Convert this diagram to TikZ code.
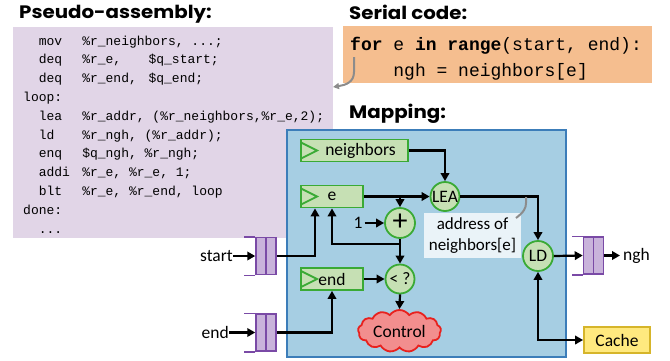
\documentclass[tikz,border=0pt]{standalone}
\usepackage{fontspec}
\usepackage{graphicx}
\setmainfont{Carlito}
\newfontfamily\headfont{Poppins}
\setmonofont{Liberation Mono}
\usetikzlibrary{arrows.meta,shapes.symbols,calc}
\definecolor{asmbg}{HTML}{E1D5E7}
\definecolor{serbg}{HTML}{F5BE8F}
\definecolor{mapbg}{HTML}{A6CEE3}
\definecolor{mapbd}{HTML}{3C7DB9}
\definecolor{regbg}{HTML}{C6E0B4}
\definecolor{regbd}{HTML}{3AAA35}
\definecolor{qbg}{HTML}{C9B3DB}
\definecolor{qbd}{HTML}{7A4AA6}
\definecolor{ctrlbg}{HTML}{F28E8E}
\definecolor{ctrlbd}{HTML}{E8211E}
\definecolor{cachebg}{HTML}{FFE97F}
\definecolor{cachebd}{HTML}{D6B52A}
\definecolor{notebg}{HTML}{EAF3F8}
\definecolor{pointer}{HTML}{8C8C8C}
\tikzset{
  heading/.style={anchor=base west, inner sep=0pt, font=\headfont\bfseries\fontsize{18}{20}\selectfont},
  codeline/.style={anchor=base west, inner sep=0pt, font=\ttfamily\fontsize{13}{15}\selectfont},
  serline/.style={anchor=base west, inner sep=0pt, font=\ttfamily\fontsize{18}{20}\selectfont},
  lbl/.style={font=\fontsize{17.5}{20}\selectfont, inner sep=0pt},
  register/.style={rectangle, draw=regbd, fill=regbg, line width=1.8pt, inner sep=0pt,
    minimum height=22pt, font=\fontsize{17.5}{20}\selectfont,
    path picture={\draw[regbd, line width=1.8pt]
      ([yshift=-3pt]path picture bounding box.north west) --
      ([xshift=16pt]path picture bounding box.west) --
      ([yshift=3pt]path picture bounding box.south west);}},
  unit/.style={circle, draw=regbd, fill=regbg, line width=1.8pt, inner sep=0pt,
    minimum size=29pt, font=\fontsize{17.5}{20}\selectfont},
  qcell/.style={rectangle, draw=qbd, fill=qbg, line width=1.5pt, inner sep=0pt,
    minimum width=20pt, minimum height=37pt,
    path picture={\draw[qbd, line width=1.5pt] (path picture bounding box.north) -- (path picture bounding box.south);}},
  qline/.style={draw=qbd, line width=1.5pt},
  conn/.style={draw=black, line width=2.2pt, -{Triangle[length=8pt,width=8.5pt]}},
}
\newcommand\opc[1]{\hspace*{15.6pt}\makebox[43.5pt][l]{#1}}
\newcommand\headtxt[1]{\scalebox{1.1}[1]{#1}}
\begin{document}
\begin{tikzpicture}[x=1pt,y=-1pt]
\useasboundingbox (0,0) rectangle (670,360);
% headings
\node[heading] (hasm) at (19,18.5) {\headtxt{Pseudo-assembly:}};
\node[heading] (hser) at (349,19.5) {\headtxt{Serial code:}};
\node[heading] (hmap) at (349,118.5) {\headtxt{Mapping:}};
% pseudo-assembly box
\node[rectangle, fill=asmbg, inner sep=0pt, minimum width=320pt, minimum height=211pt] (asm) at (173,132.5) {};
\node[codeline] (c1) at (23,45) {\opc{mov}\%r\_neighbors, ...;};
\node[codeline] (c2) at (23,63.8) {\opc{deq}\makebox[66.3pt][l]{\%r\_e,}\$q\_start;};
\node[codeline] (c3) at (23,82.6) {\opc{deq}\makebox[66.3pt][l]{\%r\_end,}\$q\_end;};
\node[codeline] (c4) at (23,101.4) {loop:};
\node[codeline] (c5) at (23,120.2) {\opc{lea}\%r\_addr, (\%r\_neighbors,\%r\_e,2);};
\node[codeline] (c6) at (23,139) {\opc{ld}\%r\_ngh, (\%r\_addr);};
\node[codeline] (c7) at (23,157.8) {\opc{enq}\$q\_ngh, \%r\_ngh;};
\node[codeline] (c8) at (23,176.6) {\opc{addi}\%r\_e, \%r\_e, 1;};
\node[codeline] (c9) at (23,195.4) {\opc{blt}\%r\_e, \%r\_end, loop};
\node[codeline] (c10) at (23,214.2) {done:};
\node[codeline] (c11) at (23,233) {\hspace*{15.6pt}...};
% serial code box
\node[rectangle, fill=serbg, inner sep=0pt, minimum width=309pt, minimum height=57pt] (ser) at (497.5,54.5) {};
\node[serline] (s1) at (350,50.5) {\textbf{for} e \textbf{in} \textbf{range}(start, end):};
\node[serline] (s2) at (350,76.5) {\hspace*{43.2pt}ngh = neighbors[e]};
\coordinate (pt1) at (354,57);
\coordinate (pt2) at (333,87);
\draw[pointer, line width=2pt, -{Triangle[length=6pt,width=6pt]}] (pt1) -- (354,72) .. controls (354,82) and (346,85) .. (pt2);
% mapping box
\node[rectangle, draw=mapbd, fill=mapbg, line width=1.8pt, inner sep=0pt, minimum width=279pt, minimum height=227pt] (map) at (426.5,243.5) {};
% registers
\node[register, minimum width=107pt] (nb) at (354.5,150.5) {\hspace*{12pt}neighbors};
\node[register, minimum width=62pt] (e) at (332,196.5) {e};
\node[register, minimum width=62pt] (endr) at (332,279) {end};
% units
\node[unit] (lea) at (445,196.5) {LEA};
\node[unit, minimum size=30pt, font=\fontsize{30}{30}\selectfont] (plus) at (400,223) {\raisebox{1.5pt}{+}};
\node[unit] (lt) at (400,279) {< ?};
\node[unit, minimum size=30pt] (ld) at (538,256) {LD};
\node[cloud, cloud puffs=13, cloud puff arc=110, aspect=2.2, draw=ctrlbd, fill=ctrlbg, line width=1.8pt, inner sep=0pt, minimum width=83pt, minimum height=37pt, font=\fontsize{17.5}{20}\selectfont] (ctrl) at (399.5,331) {Control};
\node[rectangle, draw=cachebd, fill=cachebg, line width=1.8pt, inner sep=0pt, minimum width=66pt, minimum height=26pt, font=\fontsize{17.5}{20}\selectfont] (cache) at (617,340) {Cache};
\node[rectangle, fill=notebg, inner sep=0pt, minimum width=97pt, minimum height=45pt, align=center, font=\fontsize{17}{21}\selectfont] (note) at (472.5,235.5) {address of\\neighbors[e]};
\node[lbl] (one) at (358,223) {1};
% queues
\node[qcell] (qs) at (266,256) {};
\node[qcell] (qe) at (266,332.5) {};
\node[qcell] (qo) at (593.5,255.5) {};
\foreach \q in {qs,qe,qo} {
  \draw[qline] (\q.north west) -- ++(-11,0);
  \draw[qline] (\q.south west) -- ++(-11,0);
}
\node[lbl, anchor=east] (lstart) at (233,256) {start};
\node[lbl, anchor=east] (lend) at (229,332.5) {end};
\node[lbl, anchor=west] (lngh) at (623,255.5) {ngh};
% connectors
\draw[conn] (nb.east) -| (lea.north);
\draw[conn] (e.east) -- (lea.west);
\coordinate (br1) at (400,196.5);
\draw[conn] (br1) -- (plus.north);
\draw[conn] (one.east) ++(2,0) -- (plus.west);
\draw[conn] (plus.south) -- (lt.north);
\coordinate (br2) at (400,244);
\draw[conn] (br2) -| (e.south);
\draw[conn] (qs.east) -| ([xshift=-17pt]e.south);
\draw[conn] (qe.east) -| (endr.south);
\draw[conn] (endr.east) -- (lt.west);
\draw[conn] (lt.south) -- (ctrl.north);
\draw[conn] (lea.east) -| (ld.north);
\draw[conn] (ld.east) -- (qo.west);
\draw[conn] (qo.east) -- ([xshift=-3pt]lngh.west);
\draw[conn, {Triangle[length=8pt,width=8.5pt]}-{Triangle[length=8pt,width=8.5pt]}] (ld.south) |- (cache.west);
\draw[conn] (lstart.east) -- (qs.west);
\draw[conn] (lend.east) -- (qe.west);
% pointer to address
\coordinate (ad1) at (516,218);
\coordinate (ad2) at (526,197);
\draw[pointer, line width=2pt] (ad1) .. controls (524,212) and (526,208) .. (526,203) -- (ad2);
\end{tikzpicture}
\end{document}
